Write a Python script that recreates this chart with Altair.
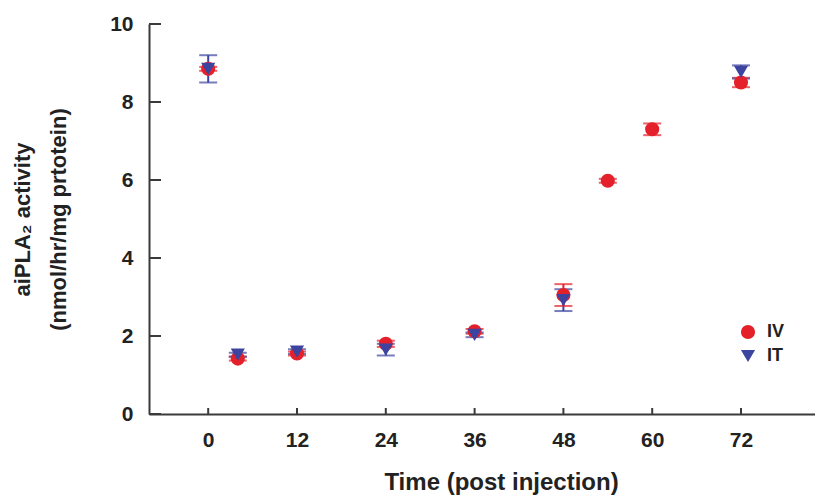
import altair as alt
import pandas as pd

# ---- data ----
series_names = ["IV", "IT"]
iv_time = [0, 4, 12, 24, 36, 48, 54, 60, 72]
iv_mean = [8.85, 1.42, 1.55, 1.80, 2.12, 3.05, 5.98, 7.30, 8.50]
iv_err = [0.05, 0.05, 0.05, 0.08, 0.06, 0.28, 0.05, 0.15, 0.12]
it_time = [0, 4, 12, 24, 36, 48, 72]
it_mean = [8.85, 1.52, 1.60, 1.65, 2.03, 2.92, 8.77]
it_err = [0.35, 0.05, 0.06, 0.15, 0.06, 0.28, 0.17]
x_ticks = [0, 12, 24, 36, 48, 60, 72]
y_ticks = [0, 2, 4, 6, 8, 10]

rows = []
for t, m, e in zip(iv_time, iv_mean, iv_err):
    rows.append({"time": t, "mean": m, "lo": m - e, "hi": m + e, "series": "IV"})
for t, m, e in zip(it_time, it_mean, it_err):
    rows.append({"time": t, "mean": m, "lo": m - e, "hi": m + e, "series": "IT"})
df = pd.DataFrame(rows)

FONT = "Liberation Sans"
AXIS_COLOR = "#3a3a3a"
RED = "#e4202a"
BLUE = "#3c44a0"
W, H = 666, 390

xscale = alt.Scale(domain=[-8, 82], nice=False, zero=False)
yscale = alt.Scale(domain=[0, 10], nice=False)
cscale = alt.Scale(domain=series_names, range=[RED, BLUE])
sscale = alt.Scale(domain=series_names, range=["circle", "triangle-down"])

X_TITLE = "Time (post injection)"
Y_TITLE = ["aiPLA₂ activity", "(nmol/hr/mg prtotein)"]

x_axis = alt.Axis(
    values=x_ticks, ticks=False, grid=False, domainColor=AXIS_COLOR, domainWidth=2,
    labelFont=FONT, labelFontSize=21, labelFontWeight="bold", labelColor="#222",
    labelPadding=15, titleFont=FONT, titleFontSize=24,
    titleFontWeight="bold", titleColor="#222", titleBaseline="top", titleY=56, titleX=352,
)
y_axis = alt.Axis(
    values=y_ticks, ticks=False, grid=False, domainColor=AXIS_COLOR, domainWidth=2,
    labelFont=FONT, labelFontSize=21, labelFontWeight="bold", labelColor="#222",
    labelPadding=16,
    titleFont=FONT, titleFontSize=22, titleFontWeight="bold", titleColor="#222",
    titleAngle=-90, titleAlign="center", titleBaseline="top", titleLineHeight=36,
    titleX=-137, titleY=195,
)
legend = alt.Legend(title=None)


def X(field):
    return alt.X(field, scale=xscale, axis=x_axis, title=X_TITLE)


def Y(field):
    return alt.Y(field, scale=yscale, axis=y_axis, title=Y_TITLE)


def C():
    return alt.Color("series:N", scale=cscale, legend=legend)


base = alt.Chart(df)

rules = base.mark_rule(strokeWidth=2).encode(
    x=X("time:Q"), y=Y("lo:Q"), y2="hi:Q", color=C(),
)

caps = base.transform_fold(["lo", "hi"], as_=["end", "val"]).mark_tick(
    orient="horizontal", size=18, thickness=2
).encode(x=X("time:Q"), y=Y("val:Q"), color=C())

points = base.mark_point(filled=True, size=200, opacity=1).encode(
    x=X("time:Q"), y=Y("mean:Q"), color=C(),
    shape=alt.Shape("series:N", scale=sscale, legend=legend),
)

ytick_df = pd.DataFrame({"v": y_ticks})
ytick_marks = alt.Chart(ytick_df).mark_rule(color=AXIS_COLOR, strokeWidth=2).encode(
    y=Y("v:Q"), x=alt.value(0), x2=alt.value(12),
)

xtick_df = pd.DataFrame({"v": x_ticks})
xtick_marks = alt.Chart(xtick_df).mark_rule(color=AXIS_COLOR, strokeWidth=2).encode(
    x=X("v:Q"), y=alt.value(H), y2=alt.value(H - 6),
)

chart = alt.layer(rules, caps, ytick_marks, xtick_marks, points).properties(
    width=W, height=H,
    autosize=alt.AutoSizeParams(type="none"),
    padding={"left": 141, "top": 16, "right": 0, "bottom": 82},
).configure_view(stroke=None).configure_legend(
    orient="none", legendX=590, legendY=299, padding=0,
    labelFont=FONT, labelFontSize=18, labelFontWeight="bold", labelColor="#222",
    symbolSize=200, symbolStrokeWidth=0, symbolOpacity=1, rowPadding=6, labelOffset=10,
)

chart.save("out.html", embed_options={"renderer": "svg", "actions": False})
